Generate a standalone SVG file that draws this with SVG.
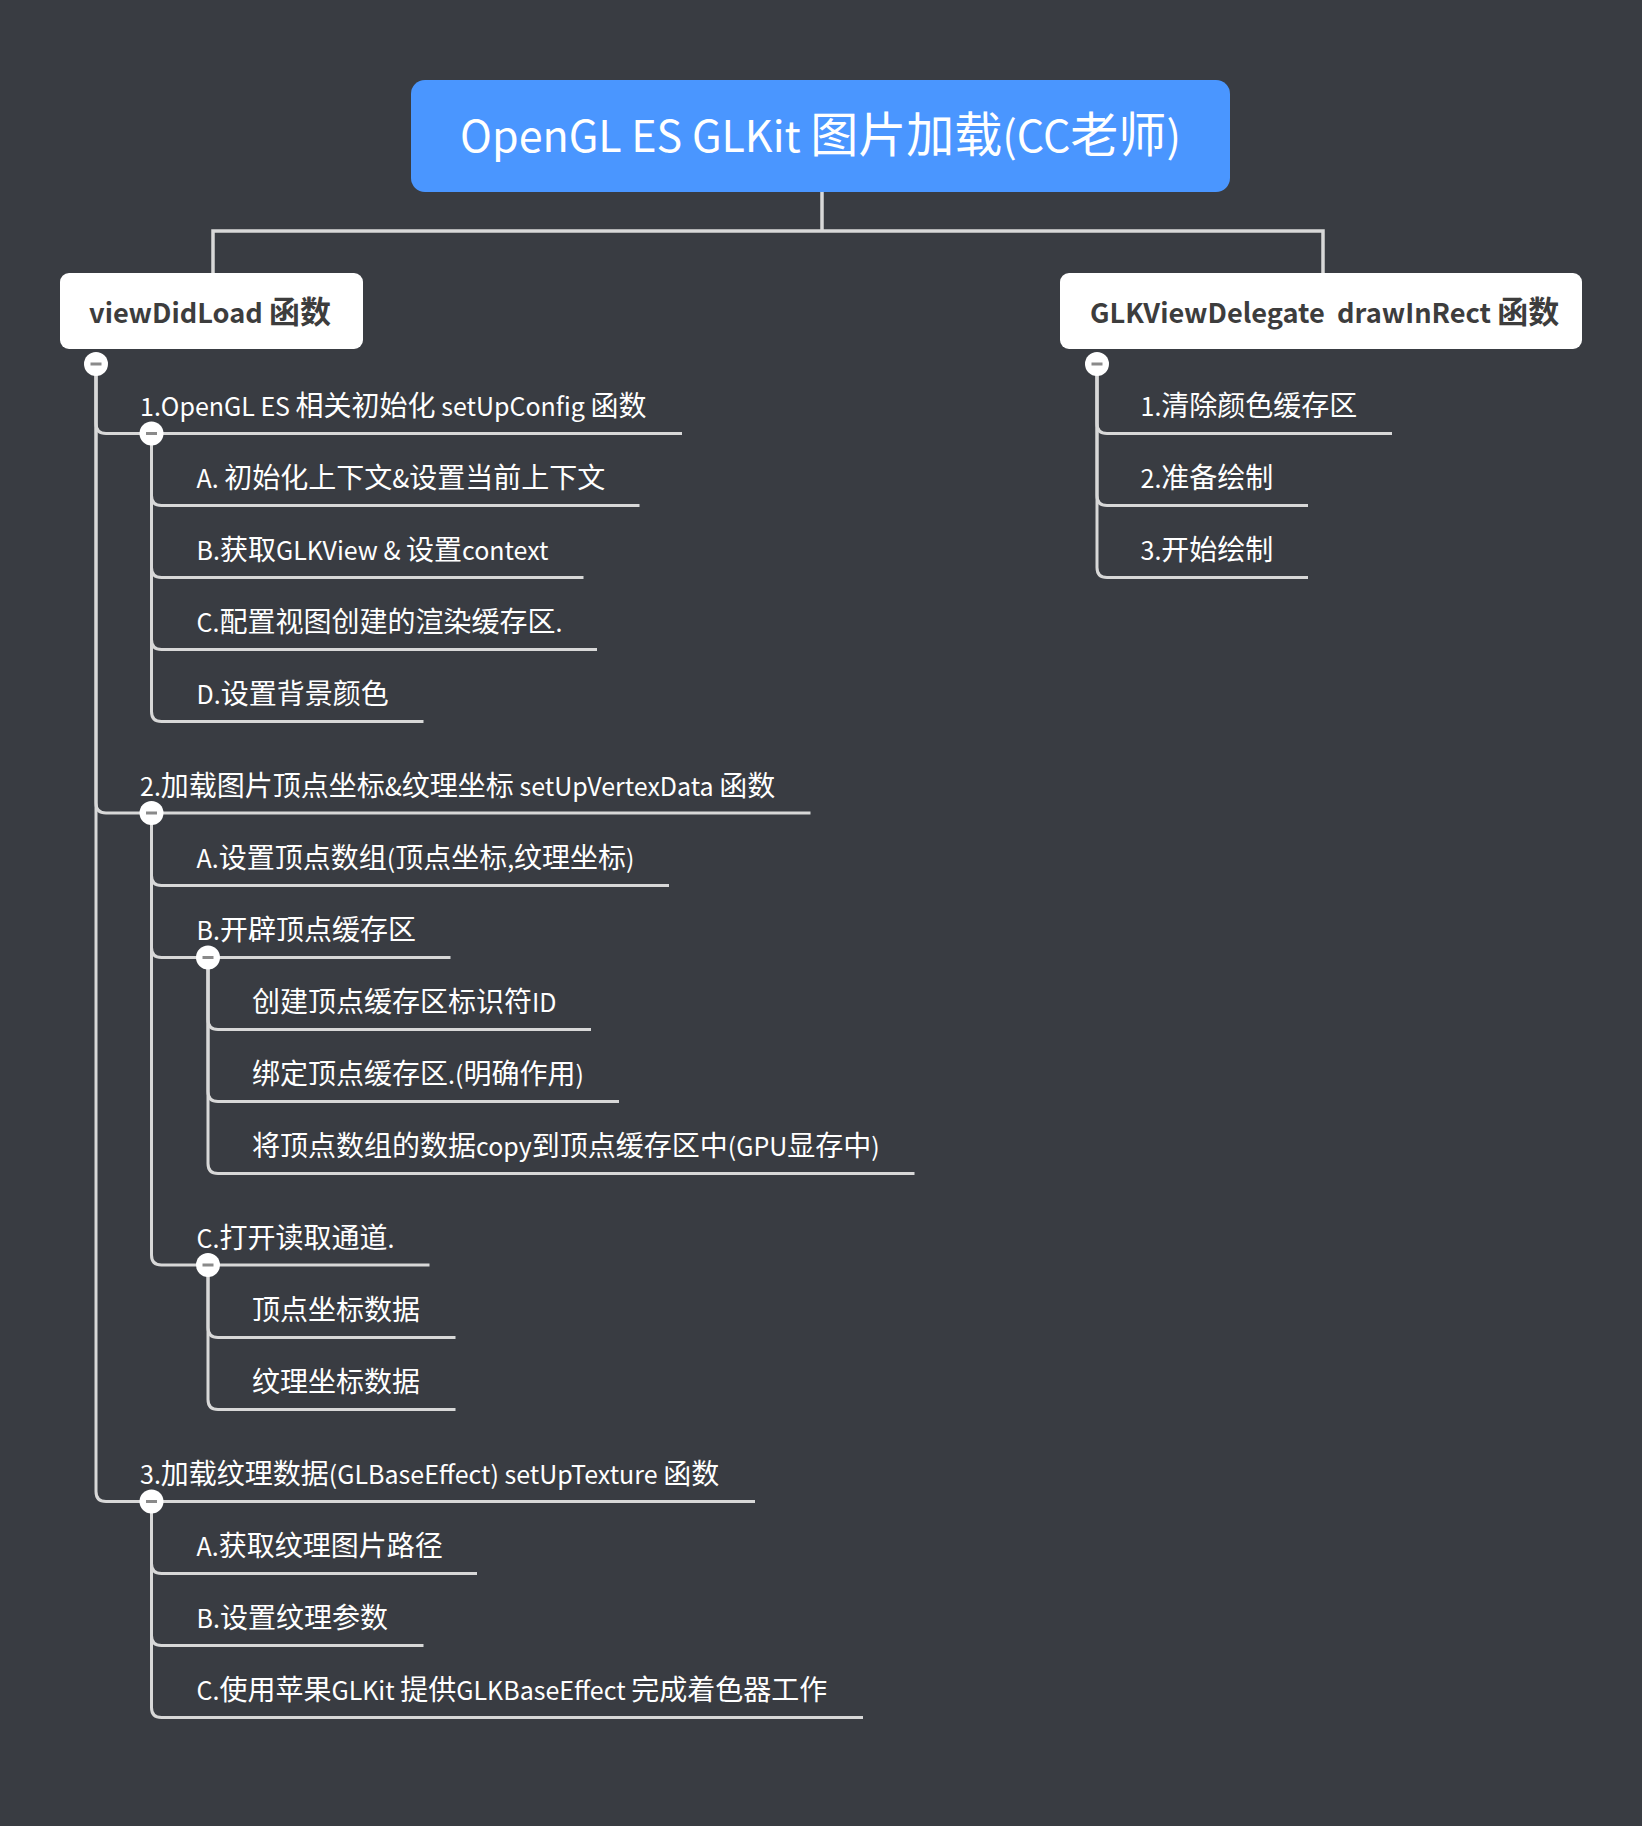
<svg xmlns="http://www.w3.org/2000/svg" width="1642" height="1826" viewBox="0 0 1642 1826">
  <style>
    .bg { fill: #393c42; }
    .root { fill: #4a96ff; }
    .box { fill: #ffffff; }
    .ln { fill: none; stroke: #d8d8d8; stroke-width: 3; stroke-linecap: butt; }
    .ln4 { fill: none; stroke: #d8d8d8; stroke-width: 3.5; }
    .t-root { font-family: "Noto Sans CJK SC", "Noto Sans", sans-serif; font-size: 43px; fill: #ffffff; }
    .t-root .k { font-size: 48px; }
    .t-main { font-family: "Noto Sans CJK SC", "Noto Sans", sans-serif; font-size: 27.2px; font-weight: bold; fill: #3d3d3d; white-space: pre; }
    .t-main .k { font-size: 31px; }
    .t { font-family: "Noto Sans CJK SC", "Noto Sans", sans-serif; font-size: 25px; fill: #ffffff; }
    .t .k { font-size: 28px; }
    .cc { fill: #ffffff; }
    .cm { fill: #8a8a8a; }
  </style>
  <defs>
    <g id="collapse">
      <circle class="cc" cx="0" cy="0" r="12"/>
      <rect class="cm" x="-5.5" y="-1.5" width="11" height="3"/>
    </g>
  </defs>
  <rect class="bg" x="0" y="0" width="1642" height="1826"/>

  <g id="connectors">
    <path class="ln4" d="M822 192 V231 M213 231 H1323 M213 229.25 V273 M1323 229.25 V273"/>
    <path class="ln" d="M96 364 V423.5 Q96 433.5 106 433.5 H682"/>
    <path class="ln" d="M96 364 V803 Q96 813 106 813 H810.5"/>
    <path class="ln" d="M96 364 V1491.5 Q96 1501.5 106 1501.5 H755"/>
    <path class="ln" d="M151.5 433.5 V495.5 Q151.5 505.5 161.5 505.5 H639.5"/>
    <path class="ln" d="M151.5 433.5 V567.5 Q151.5 577.5 161.5 577.5 H583.5"/>
    <path class="ln" d="M151.5 433.5 V639.5 Q151.5 649.5 161.5 649.5 H597"/>
    <path class="ln" d="M151.5 433.5 V711.5 Q151.5 721.5 161.5 721.5 H423.5"/>
    <path class="ln" d="M151.5 813 V875.5 Q151.5 885.5 161.5 885.5 H669"/>
    <path class="ln" d="M151.5 813 V947.5 Q151.5 957.5 161.5 957.5 H450.5"/>
    <path class="ln" d="M151.5 813 V1255 Q151.5 1265 161.5 1265 H429.5"/>
    <path class="ln" d="M208 957.5 V1019.5 Q208 1029.5 218 1029.5 H591"/>
    <path class="ln" d="M208 957.5 V1091.5 Q208 1101.5 218 1101.5 H619"/>
    <path class="ln" d="M208 957.5 V1163.5 Q208 1173.5 218 1173.5 H914.5"/>
    <path class="ln" d="M208 1265 V1327.5 Q208 1337.5 218 1337.5 H455.5"/>
    <path class="ln" d="M208 1265 V1399.5 Q208 1409.5 218 1409.5 H455.5"/>
    <path class="ln" d="M151.5 1501.5 V1563.5 Q151.5 1573.5 161.5 1573.5 H477"/>
    <path class="ln" d="M151.5 1501.5 V1635.5 Q151.5 1645.5 161.5 1645.5 H423.5"/>
    <path class="ln" d="M151.5 1501.5 V1707.5 Q151.5 1717.5 161.5 1717.5 H863"/>
    <path class="ln" d="M1097 364 V423.5 Q1097 433.5 1107 433.5 H1392"/>
    <path class="ln" d="M1097 364 V495.5 Q1097 505.5 1107 505.5 H1308"/>
    <path class="ln" d="M1097 364 V567.5 Q1097 577.5 1107 577.5 H1308"/>
  </g>

  <g id="root">
    <rect class="root" x="411" y="80" width="819" height="112" rx="14"/>
    <text class="t-root" x="820.5" y="152" text-anchor="middle">OpenGL ES GLKit <tspan class="k">图片加载</tspan>(CC<tspan class="k">老师</tspan>)</text>
  </g>

  <g id="viewDidLoad">
    <rect class="box" x="60" y="273" width="303" height="76" rx="9"/>
    <text class="t-main" x="89" y="323">viewDidLoad <tspan class="k">函数</tspan></text>
    <use href="#collapse" x="96" y="364"/>
  </g>
  <g id="drawInRect">
    <rect class="box" x="1060" y="273" width="522" height="76" rx="9"/>
    <text class="t-main" x="1090" y="323" xml:space="preserve">GLKViewDelegate  drawInRect <tspan class="k">函数</tspan></text>
    <use href="#collapse" x="1097" y="364"/>
  </g>

  <g id="n1"><text class="t" x="140" y="416">1.OpenGL ES <tspan class="k">相关初始化</tspan> setUpConfig <tspan class="k">函数</tspan></text><use href="#collapse" x="151.5" y="433.5"/></g>
  <g id="n1a"><text class="t" x="196.5" y="488">A. <tspan class="k">初始化上下文</tspan>&amp;<tspan class="k">设置当前上下文</tspan></text></g>
  <g id="n1b"><text class="t" x="196.5" y="560">B.<tspan class="k">获取</tspan>GLKView &amp; <tspan class="k">设置</tspan>context</text></g>
  <g id="n1c"><text class="t" x="196.5" y="632">C.<tspan class="k">配置视图创建的渲染缓存区</tspan>.</text></g>
  <g id="n1d"><text class="t" x="196.5" y="704">D.<tspan class="k">设置背景颜色</tspan></text></g>

  <g id="n2"><text class="t" x="140" y="795.5">2.<tspan class="k">加载图片顶点坐标</tspan>&amp;<tspan class="k">纹理坐标</tspan> setUpVertexData <tspan class="k">函数</tspan></text><use href="#collapse" x="151.5" y="813"/></g>
  <g id="n2a"><text class="t" x="196.5" y="868">A.<tspan class="k">设置顶点数组</tspan>(<tspan class="k">顶点坐标</tspan>,<tspan class="k">纹理坐标</tspan>)</text></g>
  <g id="n2b"><text class="t" x="196.5" y="940">B.<tspan class="k">开辟顶点缓存区</tspan></text><use href="#collapse" x="208" y="957.5"/></g>
  <g id="n2b1"><text class="t" x="252" y="1012"><tspan class="k">创建顶点缓存区标识符</tspan>ID</text></g>
  <g id="n2b2"><text class="t" x="252" y="1084"><tspan class="k">绑定顶点缓存区</tspan>.(<tspan class="k">明确作用</tspan>)</text></g>
  <g id="n2b3"><text class="t" x="252" y="1156"><tspan class="k">将顶点数组的数据</tspan>copy<tspan class="k">到顶点缓存区中</tspan>(GPU<tspan class="k">显存中</tspan>)</text></g>
  <g id="n2c"><text class="t" x="196.5" y="1247.5">C.<tspan class="k">打开读取通道</tspan>.</text><use href="#collapse" x="208" y="1265"/></g>
  <g id="n2c1"><text class="t" x="252" y="1320"><tspan class="k">顶点坐标数据</tspan></text></g>
  <g id="n2c2"><text class="t" x="252" y="1392"><tspan class="k">纹理坐标数据</tspan></text></g>

  <g id="n3"><text class="t" x="140" y="1484">3.<tspan class="k">加载纹理数据</tspan>(GLBaseEffect) setUpTexture <tspan class="k">函数</tspan></text><use href="#collapse" x="151.5" y="1501.5"/></g>
  <g id="n3a"><text class="t" x="196.5" y="1556">A.<tspan class="k">获取纹理图片路径</tspan></text></g>
  <g id="n3b"><text class="t" x="196.5" y="1628">B.<tspan class="k">设置纹理参数</tspan></text></g>
  <g id="n3c"><text class="t" x="196.5" y="1700">C.<tspan class="k">使用苹果</tspan>GLKit <tspan class="k">提供</tspan>GLKBaseEffect <tspan class="k">完成着色器工作</tspan></text></g>

  <g id="r1"><text class="t" x="1140.5" y="416">1.<tspan class="k">清除颜色缓存区</tspan></text></g>
  <g id="r2"><text class="t" x="1140.5" y="488">2.<tspan class="k">准备绘制</tspan></text></g>
  <g id="r3"><text class="t" x="1140.5" y="560">3.<tspan class="k">开始绘制</tspan></text></g>
</svg>
